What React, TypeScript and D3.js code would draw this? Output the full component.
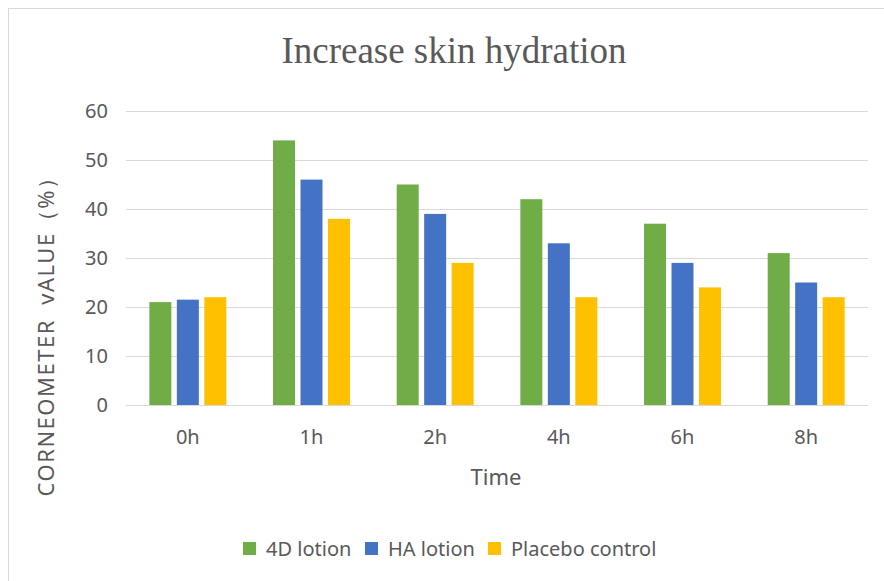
import React from "react";
import * as d3 from "d3";

const categories = ["0h", "1h", "2h", "4h", "6h", "8h"];
const seriesNames = ["4D lotion", "HA lotion", "Placebo control"];
const lotion4D = [21, 54, 45, 42, 37, 31];
const lotionHA = [21.5, 46, 39, 33, 29, 25];
const placebo = [22, 38, 29, 22, 24, 22];
const yTicks = [0, 10, 20, 30, 40, 50, 60];

const colors = ["#70AD47", "#4472C4", "#FFC000"];
const seriesValues = [lotion4D, lotionHA, placebo];

const W = 884;
const H = 581;
const textColor = "#595959";
const sans = "'Noto Sans', 'Open Sans', sans-serif";

export default function App() {
  const x0 = d3.scaleBand<string>().domain(categories).range([126, 868]);
  const x1 = d3
    .scaleBand<string>()
    .domain(seriesNames)
    .range([0, x0.bandwidth()])
    .paddingInner(0.2)
    .paddingOuter(0.85);
  const y = d3.scaleLinear().domain([0, 60]).range([405, 111]);

  // legend layout: square then label
  const legendX = [243, 365, 488];

  return (
    <svg
      width={W}
      height={H}
      style={{ position: "absolute", left: 0, top: 0, background: "#fff" }}
    >
      <rect x={8.5} y={8.5} width={W + 20} height={H + 20} fill="#fff" stroke="#d9d9d9" />

      <text
        x={454}
        y={63}
        textAnchor="middle"
        fontFamily="'Liberation Serif', 'Times New Roman', serif"
        fontSize={37}
        fill={textColor}
      >
        Increase skin hydration
      </text>

      {/* gridlines */}
      {yTicks.map((t) => (
        <line
          key={t}
          x1={126}
          x2={868}
          y1={Math.round(y(t)) + 0.5}
          y2={Math.round(y(t)) + 0.5}
          stroke="#d9d9d9"
          strokeWidth={1}
        />
      ))}

      {/* y tick labels */}
      {yTicks.map((t) => (
        <text
          key={t}
          x={108}
          y={y(t) + 7}
          textAnchor="end"
          fontFamily={sans}
          fontSize={20}
          fill={textColor}
        >
          {t}
        </text>
      ))}

      {/* bars */}
      {categories.map((c, i) => (
        <g key={c} transform={`translate(${x0(c)},0)`}>
          {seriesNames.map((s, j) => (
            <rect
              key={s}
              x={x1(s)}
              y={y(seriesValues[j][i])}
              width={x1.bandwidth()}
              height={y(0) - y(seriesValues[j][i])}
              fill={colors[j]}
            />
          ))}
        </g>
      ))}

      {/* x labels */}
      {categories.map((c) => (
        <text
          key={c}
          x={(x0(c) || 0) + x0.bandwidth() / 2}
          y={444}
          textAnchor="middle"
          fontFamily={sans}
          fontSize={20}
          fill={textColor}
        >
          {c}
        </text>
      ))}

      <text
        x={496}
        y={485}
        textAnchor="middle"
        fontFamily={sans}
        fontSize={22}
        fill={textColor}
      >
        Time
      </text>

      <text
        transform="translate(54,331) rotate(-90)"
        textAnchor="middle"
        fontFamily={sans}
        fontSize={22}
        letterSpacing={1.5}
        fill={textColor}
        style={{ whiteSpace: "pre" }}
      >
        {"CORNEOMETER  vALUE（%）"}
      </text>

      {/* legend */}
      {seriesNames.map((s, j) => (
        <g key={s} transform={`translate(${legendX[j]},0)`}>
          <rect x={0} y={542} width={13} height={13} fill={colors[j]} />
          <text x={23} y={556} fontFamily={sans} fontSize={20} fill={textColor}>
            {s}
          </text>
        </g>
      ))}
    </svg>
  );
}
